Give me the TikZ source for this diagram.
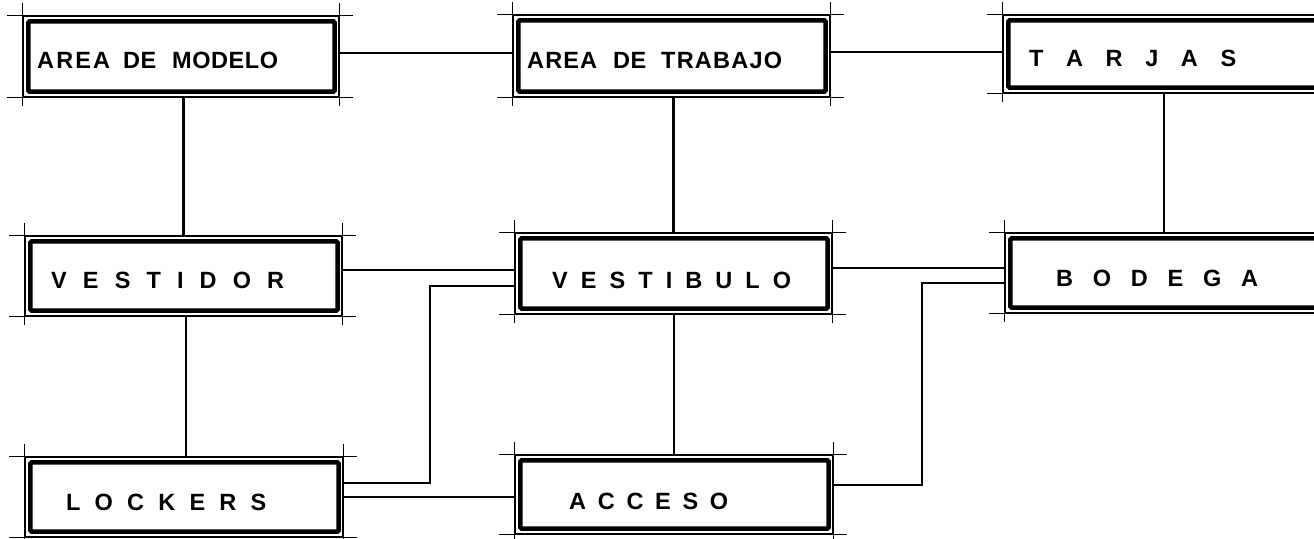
\documentclass[tikz,border=0pt]{standalone}
\usepackage{fontspec}
\setmainfont{Liberation Sans}
\newcommand\spreadbox[2]{\makebox[#1][s]{#2}}
\begin{document}
\begin{tikzpicture}[x=1pt,y=-1pt,
  room/.style={draw=black, line width=1.3pt, rectangle, inner sep=0pt, minimum width=#1},
  lbl/.style={anchor=base west, inner sep=0pt, font=\bfseries\fontsize{23.5}{23.5}\selectfont},
  link/.style={draw=black, line width=2.4pt},
  inner/.style={draw=black, line width=4.6pt, rounded corners=1.5pt},
  tick/.style={draw=black, line width=1.3pt}
]
\useasboundingbox (0,0) rectangle (1314,538);

% room nodes (outer thin rectangles)
\node[room=316pt, minimum height=81pt] (amod) at (181,56.5) {};
\node[room=317pt, minimum height=82pt] (atra) at (671.5,56) {};
\node[room=322pt, minimum height=78pt] (tarj) at (1164,54) {};
\node[room=317pt, minimum height=80pt] (vdor) at (183.5,276) {};
\node[room=317pt, minimum height=81pt] (vbul) at (673.5,273.5) {};
\node[room=320pt, minimum height=80pt] (bod)  at (1165,273) {};
\node[room=318pt, minimum height=80pt] (lock) at (184,497) {};
\node[room=318pt, minimum height=79pt] (acc)  at (674,494.5) {};

% thick inner frames and corner ticks
\foreach \n in {amod,atra,tarj,vdor,vbul,bod,lock,acc}{
  \draw[inner] ([shift={(6pt,-6pt)}]\n.north west) rectangle ([shift={(-5pt,6pt)}]\n.south east);
  \draw[tick] ([xshift=-15pt]\n.north west) -- ([xshift=13pt]\n.north east);
  \draw[tick] ([xshift=-15pt]\n.south west) -- ([xshift=13pt]\n.south east);
  \draw[tick] ([yshift=12pt]\n.north west) -- ([yshift=-8pt]\n.south west);
  \draw[tick] ([yshift=12pt]\n.north east) -- ([yshift=-8pt]\n.south east);
}

% labels
\node[lbl] (amodT) at (37,68) {\spreadbox{73pt}{A\hfil R\hfil E\hfil A}\hspace{13pt}\spreadbox{33pt}{D\hfil E}\hspace{16pt}\spreadbox{106pt}{M\hfil O\hfil D\hfil E\hfil L\hfil O}};
\node[lbl] (atraT) at (527,68) {\spreadbox{70pt}{A\hfil R\hfil E\hfil A}\hspace{16pt}\spreadbox{33pt}{D\hfil E}\hspace{15pt}\spreadbox{121pt}{T\hfil R\hfil A\hfil B\hfil A\hfil J\hfil O}};
\node[lbl] (tarjT) at (1029,66) {\spreadbox{207pt}{T\hfil A\hfil R\hfil J\hfil A\hfil S}};
\node[lbl] (vdorT) at (51,288) {\spreadbox{233pt}{V\hfil E\hfil S\hfil T\hfil I\hfil D\hfil O\hfil R}};
\node[lbl] (vbulT) at (552,288) {\spreadbox{239pt}{V\hfil E\hfil S\hfil T\hfil I\hfil B\hfil U\hfil L\hfil O}};
\node[lbl] (bodT) at (1056,286) {\spreadbox{202pt}{B\hfil O\hfil D\hfil E\hfil G\hfil A}};
\node[lbl] (lockT) at (66,510) {\spreadbox{200pt}{L\hfil O\hfil C\hfil K\hfil E\hfil R\hfil S}};
\node[lbl] (accT) at (569,509) {\spreadbox{159pt}{A\hfil C\hfil C\hfil E\hfil S\hfil O}};

% junction coordinates
\coordinate (j1) at (430,286);
\coordinate (j2) at (922,283);

% connectors
\draw[link] ([yshift=3.5pt]amod.east) -- ([yshift=3.5pt]amod.east -| atra.west);
\draw[link] ([yshift=2pt]tarj.west) -- ([yshift=2pt]tarj.west -| atra.east);
\draw[link] (vdor.north) -- (vdor.north |- amod.south);
\draw[link] (vbul.north) -- (vbul.north |- atra.south);
\draw[link] (tarj.south) -- (tarj.south |- bod.north);
\draw[link] ([yshift=6pt]vdor.east) -- ([yshift=6pt]vdor.east -| vbul.west);
\draw[link] ([yshift=5.5pt]vbul.east) -- ([yshift=5.5pt]vbul.east -| bod.west);
\draw[link] ([yshift=14pt]lock.east) -| (j1) -- (j1 -| vbul.west);
\draw[link] (lock.east) -- (lock.east -| acc.west);
\draw[link] ([yshift=9.5pt]acc.east) -| (j2) -- (j2 -| bod.west);
\draw[link] ([xshift=2pt]lock.north) -- ([xshift=2pt]lock.north |- vdor.south);
\draw[link] (acc.north) -- (acc.north |- vbul.south);
\end{tikzpicture}
\end{document}
